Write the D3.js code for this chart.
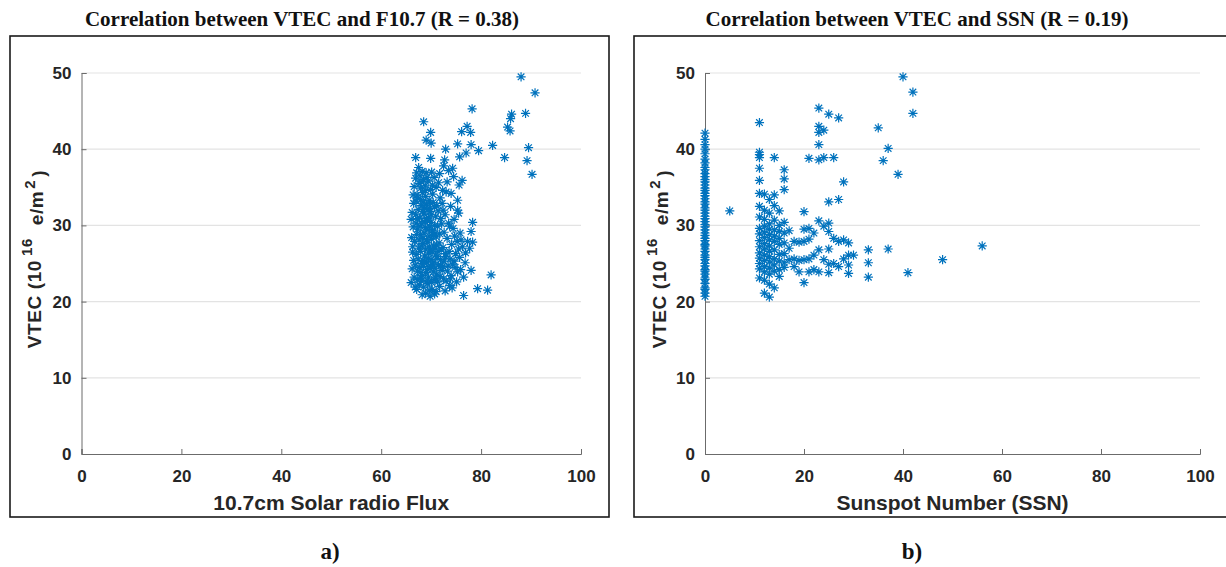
<!DOCTYPE html>
<html>
<head>
<meta charset="utf-8">
<script src="https://cdn.jsdelivr.net/npm/d3@7"></script>
<style>
  html, body { margin: 0; padding: 0; background: #fff; }
  svg { display: block; }
  .tick text { font-family: "Liberation Sans", Arial, sans-serif; font-weight: bold; font-size: 17px; fill: #262626; }
  .axis path, .axis line { stroke: #6b6b6b; }
</style>
</head>
<body>
<div id="chart"></div>
<script>
// Ticks
var xTicks = [0, 20, 40, 60, 80, 100];
var yTicks = [0, 10, 20, 30, 40, 50];

// Panel a) : [F10.7, VTEC]
var fluxPoints = [
  // upper scatter
  [88.0, 49.5], [90.8, 47.4], [78.2, 45.3], [68.5, 43.6], [86.1, 44.6], [85.9, 44.0], [88.9, 44.7],
  [85.3, 42.9], [85.8, 42.4], [69.9, 42.2], [77.2, 43.0], [76.1, 42.3], [77.9, 42.2], [69.0, 41.2],
  [70.0, 40.8], [75.3, 40.7], [78.0, 40.6], [79.5, 39.8], [82.3, 40.5], [72.9, 40.0], [89.5, 40.2],
  [66.9, 38.9], [69.9, 38.8], [72.7, 38.6], [75.7, 39.0], [77.0, 39.5], [84.7, 38.9], [89.2, 38.5],
  [90.2, 36.7], [71.7, 36.8], [74.3, 37.5], [76.2, 35.9], [74.0, 34.2], [75.3, 33.3], [75.3, 32.0],
  [72.5, 37.8], [73.5, 37.2], [74.5, 36.4], [73.2, 35.7], [75.6, 35.3],
  // right strand and low outliers
  [78.3, 30.4], [78.0, 29.2], [77.3, 27.9], [78.3, 27.8], [77.7, 27.0], [82.0, 23.5], [79.3, 21.7],
  [81.3, 21.5], [76.5, 20.8], [78.0, 24.1],
  // main cluster
  [67.5, 37.6], [68.2, 37.1], [69.0, 36.9], [67.8, 36.5], [70.1, 37.0],
  [66.9, 36.2], [68.5, 36.0], [69.4, 35.8], [70.6, 36.3], [71.5, 35.6], [67.6, 35.5],
  [66.6, 35.1], [67.9, 34.9], [68.8, 35.2], [69.9, 34.7], [71.0, 35.0], [72.3, 34.6], [68.3, 34.3],
  [67.2, 34.0], [68.9, 33.8], [70.3, 34.1], [71.8, 33.6], [73.0, 34.4], [69.6, 33.3], [67.0, 33.2],
  [66.5, 32.9], [68.0, 32.6], [69.1, 32.8], [70.7, 32.4], [72.2, 32.9], [73.9, 32.5], [67.4, 32.1], [71.4, 31.9],
  [66.2, 31.7], [68.6, 31.5], [69.8, 31.8], [70.9, 31.2], [72.8, 31.4], [75.5, 31.6], [67.7, 31.0],
  [66.0, 30.8], [69.3, 30.6], [71.9, 30.9], [73.5, 30.3], [68.1, 30.2],
  [66.4, 29.8], [67.3, 29.5], [68.9, 29.7], [70.2, 29.3], [71.3, 29.9], [72.6, 29.1], [74.4, 29.6],
  [75.8, 29.0], [67.9, 28.8], [69.6, 28.6], [70.8, 28.9], [66.1, 28.4], [73.2, 28.3],
  [66.7, 27.9], [68.3, 27.6], [69.2, 27.8], [70.5, 27.3], [71.6, 27.7], [72.4, 27.1], [74.1, 27.5],
  [75.2, 27.9], [76.3, 27.2], [67.5, 27.0], [69.9, 26.8], [73.6, 26.6], [66.3, 26.5],
  [67.0, 26.2], [68.7, 26.0], [69.5, 25.7], [70.9, 26.1], [71.9, 25.5], [72.9, 25.9], [74.6, 25.3],
  [75.7, 25.8], [76.8, 25.1], [66.5, 25.4], [68.1, 25.0], [70.3, 24.9], [73.4, 24.7],
  [66.2, 24.3], [67.3, 24.0], [68.9, 23.8], [69.8, 24.4], [71.1, 23.6], [72.2, 24.1], [74.0, 23.4],
  [75.3, 23.9], [76.5, 23.2], [67.9, 23.1], [70.6, 22.9], [73.0, 22.7],
  [66.0, 22.5], [67.6, 22.2], [68.5, 21.9], [69.3, 22.4], [70.2, 21.6], [71.7, 22.0], [72.8, 21.4],
  [74.2, 21.8], [68.9, 21.1], [69.8, 20.7], [71.0, 21.3], [67.1, 21.6],
  [67.2, 33.6], [68.4, 33.1], [69.7, 32.2], [70.4, 33.0], [68.7, 32.3], [67.8, 29.9], [68.6, 29.0],
  [69.4, 29.4], [70.0, 30.4], [70.7, 30.0], [69.0, 30.9], [67.6, 28.1], [68.4, 28.3], [69.1, 28.1],
  [70.1, 28.2], [71.0, 28.5], [67.9, 26.6], [68.9, 26.9], [69.6, 27.2], [70.8, 27.0], [71.4, 26.6],
  [67.4, 25.6], [68.4, 25.4], [69.1, 25.1], [70.0, 25.5], [70.6, 25.2], [71.5, 24.8], [67.6, 24.5],
  [68.5, 24.6], [69.3, 24.2], [70.4, 23.9], [71.8, 23.3], [68.3, 23.4], [69.5, 23.2], [70.1, 22.5],
  [71.3, 22.6], [68.0, 22.7], [72.5, 23.0], [72.0, 26.8], [72.9, 26.3], [73.8, 25.6], [74.8, 24.5],
  [75.9, 24.2], [73.3, 24.0], [71.2, 25.9], [70.5, 28.7], [71.7, 28.9], [72.1, 30.2], [71.1, 32.6],
  [70.0, 31.4], [68.8, 34.6], [69.2, 36.3], [68.0, 35.7], [69.5, 31.0], [67.0, 30.3], [66.8, 24.8],
  [66.6, 23.2], [67.2, 22.9], [70.8, 24.4], [72.3, 24.6], [74.9, 26.3], [75.1, 22.6], [73.7, 22.1],
  [69.6, 21.5], [70.7, 21.0], [68.2, 20.9],
  [67.1, 36.9], [67.9, 33.4], [68.3, 31.8], [69.2, 32.1], [69.9, 32.9], [70.3, 35.3], [68.6, 30.5],
  [67.3, 30.9], [69.7, 29.9], [70.4, 29.1], [67.1, 28.8], [68.0, 27.3], [69.5, 26.4], [70.2, 26.5],
  [71.1, 27.4], [68.6, 25.3], [69.9, 24.7], [67.8, 23.8], [69.0, 22.6], [70.9, 23.1], [71.9, 24.7],
  [72.6, 25.3], [74.3, 24.9], [75.5, 26.9], [74.7, 28.6], [73.7, 29.9], [72.4, 32.0], [74.6, 30.8],
  [76.0, 28.1], [76.9, 26.4], [66.3, 27.2], [66.9, 31.4], [66.4, 34.0], [66.8, 21.9], [73.9, 23.0]
];

// Panel b) : VTEC on days with SSN = 0
var ssnZeroVtec = [20.7, 21.1, 21.6, 21.8, 22.4, 22.9, 23.1, 23.6, 24.0, 24.2, 24.7, 25.0, 25.5, 25.8,
  26.1, 26.6, 26.9, 27.3, 27.5, 28.0, 28.3, 28.7, 29.0, 29.4, 29.8, 30.1, 30.5, 30.9, 31.2, 31.6,
  32.0, 32.3, 32.8, 33.1, 33.5, 33.9, 34.2, 34.6, 34.9, 35.3, 35.7, 36.0, 36.4, 36.8, 37.3, 37.6,
  38.2, 38.7, 39.4, 40.0, 40.6, 41.3, 42.1];

// Panel b) : [SSN, VTEC] for SSN > 0
var ssnPoints = [
  [5, 31.9],
  [11, 43.5], [11, 39.6], [11, 39.3], [11, 38.9], [11, 37.5], [11, 35.9], [11, 34.2], [11, 32.5],
  [11, 31.1], [11, 29.6], [11, 28.9], [11, 28.0], [11, 27.2], [11, 26.4], [11, 25.7], [11, 25.0],
  [11, 24.3], [11, 23.1],
  [12, 34.1], [12, 32.0], [12, 30.8], [12, 29.9], [12, 29.1], [12, 28.4], [12, 27.6], [12, 26.9],
  [12, 26.1], [12, 25.4], [12, 24.6], [12, 23.9], [12, 22.8], [12, 21.1],
  [13, 33.4], [13, 31.6], [13, 30.2], [13, 29.5], [13, 28.8], [13, 28.1], [13, 27.3], [13, 26.6],
  [13, 25.9], [13, 25.2], [13, 24.4], [13, 23.6], [13, 22.3], [13, 20.6],
  [14, 38.9], [14, 34.0], [14, 32.6], [14, 30.7], [14, 29.4], [14, 28.6], [14, 27.9], [14, 26.8],
  [14, 25.6], [14, 24.8], [14, 24.0], [14, 21.8],
  [15, 31.9], [15, 30.0], [15, 29.2], [15, 28.3], [15, 27.5], [15, 26.2], [15, 25.3], [15, 24.2], [15, 23.3],
  [16, 37.3], [16, 36.1], [16, 34.7], [16, 30.4], [16, 29.0], [16, 27.7], [16, 26.3], [16, 25.1], [16, 24.5],
  [17, 29.3], [17, 27.0], [17, 25.5],
  [18, 27.9], [18, 25.6], [18, 24.6],
  [19, 27.8], [19, 25.4], [19, 23.9],
  [20, 31.8], [20, 29.5], [20, 27.9], [20, 25.5], [20, 22.5],
  [21, 38.8], [21, 29.6], [21, 28.2], [21, 25.6], [21, 23.9],
  [22, 29.0], [22, 26.1], [22, 24.2],
  [23, 45.4], [23, 43.0], [23, 42.2], [23, 40.6], [23, 38.6], [23, 30.6], [23, 26.8], [23, 23.9],
  [24, 42.5], [24, 38.9], [24, 29.9], [24, 25.5],
  [25, 44.6], [25, 33.1], [25, 30.3], [25, 29.2], [25, 26.9], [25, 24.9], [25, 23.8],
  [26, 38.9], [26, 28.3], [26, 25.0],
  [27, 44.1], [27, 33.4], [27, 27.9], [27, 24.6],
  [28, 35.7], [28, 28.1], [28, 25.6],
  [29, 27.7], [29, 26.1], [29, 24.8], [29, 23.7],
  [30, 26.1],
  [33, 26.8], [33, 25.1], [33, 23.2],
  [35, 42.8], [36, 38.5], [37, 40.1], [37, 26.9], [39, 36.7], [40, 49.5], [41, 23.8],
  [42, 47.5], [42, 44.7], [48, 25.5], [56, 27.3]
];

var panelB = ssnZeroVtec.map(function(v) { return [0, v]; }).concat(ssnPoints);

var color = "#0072BD";

function asterisk(r) {
  var d = r * 0.72;
  return "M" + (-r) + ",0H" + r + "M0," + (-r) + "V" + r +
      "M" + (-d) + "," + (-d) + "L" + d + "," + d +
      "M" + (-d) + "," + d + "L" + d + "," + (-d);
}

var svg = d3.select("#chart").append("svg")
    .attr("width", 1226)
    .attr("height", 567);

function drawPanel(p) {
  var g = svg.append("g");

  // Outer frame
  g.append("rect")
      .attr("x", p.box[0]).attr("y", p.box[1])
      .attr("width", p.box[2]).attr("height", p.box[3])
      .attr("fill", "none").attr("stroke", "#1a1a1a").attr("stroke-width", 1.6);

  var xScale = d3.scaleLinear().domain([0, 100]).range([p.left, p.right]);
  var yScale = d3.scaleLinear().domain([0, 50]).range([454, 73]);

  // Grid
  g.append("g").selectAll("line")
      .data(yTicks.slice(1))
    .enter().append("line")
      .attr("x1", p.left).attr("x2", p.right)
      .attr("y1", function(d) { return yScale(d); })
      .attr("y2", function(d) { return yScale(d); })
      .attr("stroke", "#e3e3e3").attr("stroke-width", 1.2);

  // Axes (ticks point inward)
  g.append("g").attr("class", "axis")
      .attr("transform", "translate(0,454)")
      .call(d3.axisBottom(xScale).tickValues(xTicks).tickSize(-5).tickSizeOuter(-5).tickPadding(16));

  g.append("g").attr("class", "axis")
      .attr("transform", "translate(" + p.left + ",0)")
      .call(d3.axisLeft(yScale).tickValues(yTicks).tickSize(-5).tickSizeOuter(-5).tickPadding(10));

  // Points
  g.append("g").selectAll("path")
      .data(p.data)
    .enter().append("path")
      .attr("transform", function(d) { return "translate(" + xScale(d[0]) + "," + yScale(d[1]) + ")"; })
      .attr("d", asterisk(4.6))
      .attr("fill", "none")
      .attr("stroke", color)
      .attr("stroke-width", 1.2);

  // Title
  g.append("text")
      .attr("x", p.titleX).attr("y", 26)
      .attr("text-anchor", "middle")
      .style("font-family", "'Liberation Serif', 'Times New Roman', serif")
      .style("font-weight", "bold").style("font-size", "21px")
      .style("fill", "#111")
      .text(p.title);

  // X label
  g.append("text")
      .attr("x", (p.left + p.right) / 2).attr("y", 510)
      .attr("text-anchor", "middle")
      .style("font-family", "'Liberation Sans', Arial, sans-serif")
      .style("font-weight", "bold").style("font-size", "21px")
      .style("fill", "#262626")
      .text(p.xLabel);

  // Y label
  var yl = g.append("text")
      .attr("transform", "translate(" + p.yLabelX + ",259) rotate(-90)")
      .attr("text-anchor", "middle")
      .attr("dy", "0.35em")
      .style("font-family", "'Liberation Sans', Arial, sans-serif")
      .style("font-weight", "bold").style("font-size", "19px")
      .style("letter-spacing", "0.6px")
      .style("fill", "#262626");
  yl.append("tspan").text("VTEC (10");
  yl.append("tspan").attr("dx", 4).attr("dy", "-0.55em").style("font-size", "15px").text("16");
  yl.append("tspan").attr("dx", 7).attr("dy", "0.55em").text(" e/m");
  yl.append("tspan").attr("dx", 2).attr("dy", "-0.55em").style("font-size", "15px").text("2");
  yl.append("tspan").attr("dx", 3).attr("dy", "0.55em").text(")");

  // Panel letter
  g.append("text")
      .attr("x", p.letterX).attr("y", 559)
      .attr("text-anchor", "middle")
      .style("font-family", "'Liberation Serif', 'Times New Roman', serif")
      .style("font-weight", "bold").style("font-size", "23px")
      .style("fill", "#111")
      .text(p.letter);
}

drawPanel({
  box: [10, 36, 599, 481],
  left: 81.5, right: 581,
  data: fluxPoints,
  title: "Correlation between VTEC and F10.7 (R = 0.38)",
  titleX: 302,
  xLabel: "10.7cm Solar radio Flux",
  yLabelX: 34,
  letter: "a)",
  letterX: 330
});

drawPanel({
  box: [634, 36, 620, 481],
  left: 705, right: 1200,
  data: panelB,
  title: "Correlation between VTEC and SSN (R = 0.19)",
  titleX: 917,
  xLabel: "Sunspot Number (SSN)",
  yLabelX: 659,
  letter: "b)",
  letterX: 912
});
</script>
</body>
</html>
